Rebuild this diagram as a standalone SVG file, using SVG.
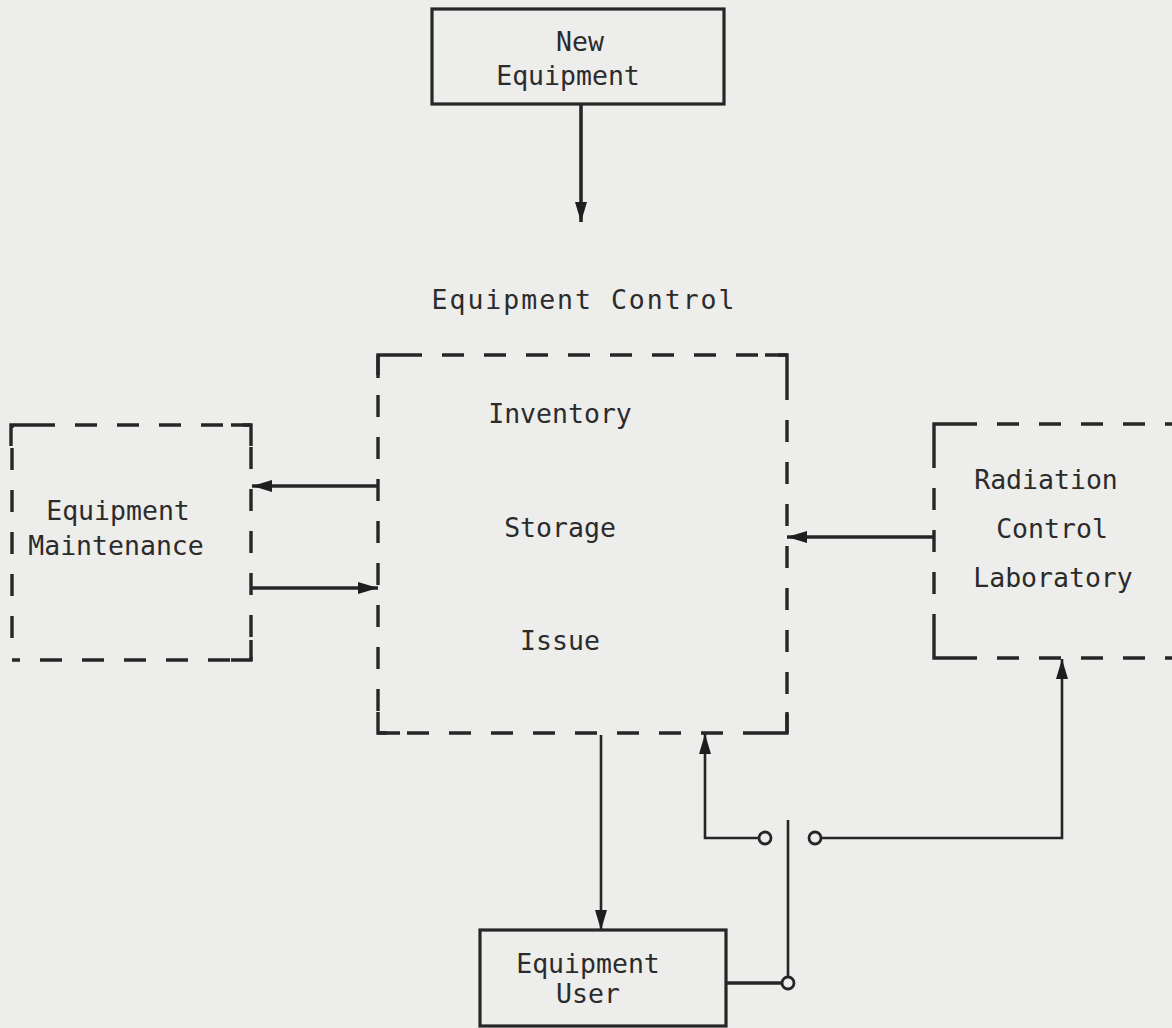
<svg xmlns="http://www.w3.org/2000/svg" width="1172" height="1028" viewBox="0 0 1172 1028">
<style>
.bg{fill:#ededeb}
.box{fill:none;stroke:#262626;stroke-width:3.2}
.dash{fill:none;stroke:#262626;stroke-width:3.4;stroke-dasharray:22 20}
.corner{fill:none;stroke:#262626;stroke-width:3.4}
.ln{fill:none;stroke:#262626;stroke-width:3.6}
.th{fill:none;stroke:#262626;stroke-width:2.6}
.dot{fill:#ededeb;stroke:#262626;stroke-width:2.8}
text{font-family:"DejaVu Sans Mono","Liberation Mono",monospace;font-size:26.5px;fill:#2b2b2b;text-anchor:middle}
</style>
<defs>
<marker id="ah" viewBox="0 0 20 12" refX="20" refY="6" markerWidth="20" markerHeight="13" markerUnits="userSpaceOnUse" orient="auto">
<path d="M0,0 L20,6 L0,12 Z" fill="#1e1e1e"/>
</marker>
</defs>
<rect class="bg" x="0" y="0" width="1172" height="1028"/>

<g id="new-equipment">
<rect class="box" x="432" y="9" width="292" height="95"/>
<text x="580" y="51">New</text>
<text x="568" y="85">Equipment</text>
</g>

<g id="equipment-control">
<text x="583" y="309" textLength="303" lengthAdjust="spacing">Equipment Control</text>
<path class="dash" d="M400,355 H787 M787,378 V733 M765,733 H378 M378,711 V355"/>
<path class="corner" d="M378,378 V355 H400 M765,355 H787 V378 M787,712 V733 H765 M400,733 H378 V712"/>
<text x="560" y="423">Inventory</text>
<text x="560" y="537">Storage</text>
<text x="560" y="650">Issue</text>
</g>

<g id="equipment-maintenance">
<path class="dash" d="M33,425 H251 M251,447 V660 M230,660 H12 M12,638 V425"/>
<path class="corner" d="M11,446 V425 H33 M231,425 H251 V446 M251,640 V660 H231"/>
<text x="118" y="520">Equipment</text>
<text x="116" y="555">Maintenance</text>
</g>

<g id="radiation-control-laboratory">
<path class="dash" d="M955,424 H1172 M934,446 V636 M955,658 H1172"/>
<path class="corner" d="M934,446 V424 H955 M934,636 V658 H955"/>
<text x="1046" y="489">Radiation</text>
<text x="1052" y="538">Control</text>
<text x="1053" y="587">Laboratory</text>
</g>

<g id="equipment-user">
<rect class="box" x="480" y="930" width="246" height="96"/>
<text x="588" y="973">Equipment</text>
<text x="588" y="1003">User</text>
</g>

<g id="connectors">
<path class="ln" d="M581,104 V222" marker-end="url(#ah)"/>
<path class="ln" d="M378,486 H252" marker-end="url(#ah)"/>
<path class="ln" d="M252,588 H378" marker-end="url(#ah)"/>
<path class="ln" d="M934,537 H787" marker-end="url(#ah)"/>
<path class="th" d="M601,735 V930" marker-end="url(#ah)"/>
<path class="th" d="M759,838 H705 V734" marker-end="url(#ah)"/>
<path class="th" d="M821,838 H1062 V659" marker-end="url(#ah)"/>
<path class="ln" d="M726,983 H782"/>
<path class="th" d="M788,977 V820"/>
<circle class="dot" cx="765" cy="838" r="6"/>
<circle class="dot" cx="815" cy="838" r="6"/>
<circle class="dot" cx="788" cy="983" r="6"/>
</g>
</svg>
